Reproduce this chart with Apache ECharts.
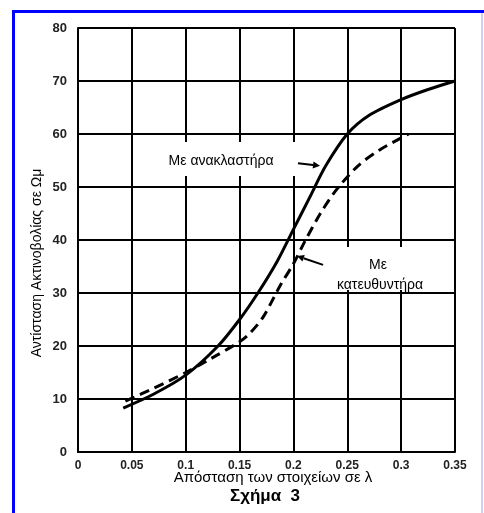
<!DOCTYPE html>
<html>
<head>
<meta charset="utf-8">
<script src="https://cdn.jsdelivr.net/npm/echarts@6/dist/echarts.min.js"></script>
<style>
html,body{margin:0;padding:0;background:#fff;}
#c{width:484px;height:513px;}
</style>
</head>
<body>
<div id="c"></div>
<script>
// Data
const xTicks = [0, 0.05, 0.1, 0.15, 0.2, 0.25, 0.3, 0.35];
const yTicks = [0, 10, 20, 30, 40, 50, 60, 70, 80];

const reflectorX = [0.042, 0.07, 0.1, 0.13, 0.15, 0.167, 0.185, 0.2, 0.215, 0.23, 0.25, 0.27, 0.3, 0.325, 0.35];
const reflectorY = [8.3, 10.9, 14.5, 20, 25, 30, 36, 42, 48, 54, 60, 63.5, 66.5, 68.4, 70];

const directorX = [0.044, 0.07, 0.1, 0.125, 0.15, 0.16, 0.172, 0.188, 0.2, 0.21, 0.225, 0.24, 0.26, 0.28, 0.307];
const directorY = [9.6, 12, 15, 17.8, 20.8, 22.5, 25.5, 31.5, 35.5, 39.5, 45, 49.5, 54, 57, 60];

const labelReflector = 'Με ανακλαστήρα';
const labelDirector1 = 'Με';
const labelDirector2 = 'κατευθυντήρα';
const xTitle = 'Απόσταση των στοιχείων σε λ';
const yTitle = 'Αντίσταση Ακτινοβολίας σε Ωμ';
const figTitle = 'Σχήμα  3';

// annotation anchors in data coordinates
const annoReflector = {text: [0.1328, 54.9], arrowFrom: [0.2042, 54.5], arrowTo: [0.2247, 54.0]};
const annoDirector = {text1: [0.2785, 35.3], text2: [0.2804, 31.5], arrowFrom: [0.2275, 35.3], arrowTo: [0.2033, 37.0]};

const pairs = (xs, ys) => xs.map((x, i) => [x, ys[i]]);

const chart = echarts.init(document.getElementById('c'), null, {renderer: 'canvas'});
const font = 'Liberation Sans, Arial, sans-serif';

const option = {
  animation: false,
  backgroundColor: '#ffffff',
  grid: {left: 78, right: 29, top: 28, bottom: 61},
  xAxis: {
    type: 'value', min: 0, max: 0.35, interval: 0.05,
    axisLine: {show: true, lineStyle: {color: '#000', width: 2}},
    axisTick: {show: false},
    splitLine: {show: true, lineStyle: {color: '#000', width: 2}},
    axisLabel: {
      color: '#222', fontSize: 12, fontWeight: 'bold', fontFamily: font, margin: 8,
      formatter: v => {
        const t = xTicks.find(t => Math.abs(t - v) < 1e-9);
        return t === undefined ? '' : String(t);
      }
    }
  },
  yAxis: {
    type: 'value', min: 0, max: 80, interval: 10,
    axisLine: {show: true, lineStyle: {color: '#000', width: 2}},
    axisTick: {show: false},
    splitLine: {show: true, lineStyle: {color: '#000', width: 2}},
    axisLabel: {
      color: '#222', fontSize: 13, fontWeight: 'bold', fontFamily: font, margin: 11,
      formatter: v => {
        const t = yTicks.find(t => Math.abs(t - v) < 1e-9);
        return t === undefined ? '' : String(t);
      }
    }
  },
  series: [
    {
      name: labelReflector, type: 'line', data: pairs(reflectorX, reflectorY),
      smooth: 0.3, showSymbol: false, z: 5,
      lineStyle: {color: '#000', width: 3}
    },
    {
      name: labelDirector2, type: 'line', data: pairs(directorX, directorY),
      smooth: 0.3, showSymbol: false, z: 5,
      lineStyle: {color: '#000', width: 3, type: [10, 6]}
    }
  ]
};
chart.setOption(option);

const P = d => chart.convertToPixel({xAxisIndex: 0, yAxisIndex: 0}, d);

function arrow(from, to) {
  const a = P(from), b = P(to);
  const ang = Math.atan2(b[1] - a[1], b[0] - a[0]);
  const L = 7, W = 3.5;
  const bx = b[0] - L * Math.cos(ang), by = b[1] - L * Math.sin(ang);
  return [
    {type: 'line', z: 20, shape: {x1: a[0], y1: a[1], x2: bx, y2: by}, style: {stroke: '#000', lineWidth: 2}},
    {type: 'polygon', z: 20, shape: {points: [
      [b[0], b[1]],
      [bx + W * Math.sin(ang), by - W * Math.cos(ang)],
      [bx - W * Math.sin(ang), by + W * Math.cos(ang)]
    ]}, style: {fill: '#000'}}
  ];
}

const tR = P(annoReflector.text);
const tD1 = P(annoDirector.text1);
const tD2 = P(annoDirector.text2);

const graphics = [
  // frame
  {type: 'rect', z: 30, shape: {x: 12, y: 10, width: 3, height: 503}, style: {fill: '#0000ff'}},
  {type: 'rect', z: 30, shape: {x: 12, y: 10, width: 472, height: 3}, style: {fill: '#0000ff'}},
  {type: 'rect', z: 30, shape: {x: 481, y: 13, width: 2, height: 500}, style: {fill: '#cfcff2'}},
  // annotation boxes
  {type: 'rect', z: 10, shape: {x: tR[0] - 76, y: tR[1] - 19, width: 152, height: 34}, style: {fill: '#fff'}},
  {type: 'text', z: 21, style: {text: labelReflector, x: tR[0], y: tR[1], align: 'center', verticalAlign: 'middle', font: '14px ' + font, fill: '#000'}},
  {type: 'rect', z: 10, shape: {x: tD1[0] - 66, y: tD1[1] - 18, width: 134, height: 43}, style: {fill: '#fff'}},
  {type: 'text', z: 21, style: {text: labelDirector1, x: tD1[0], y: tD1[1], align: 'center', verticalAlign: 'middle', font: '14px ' + font, fill: '#000'}},
  {type: 'text', z: 21, style: {text: labelDirector2, x: tD2[0], y: tD2[1], align: 'center', verticalAlign: 'middle', font: '14px ' + font, fill: '#000'}},
  ...arrow(annoReflector.arrowFrom, annoReflector.arrowTo),
  ...arrow(annoDirector.arrowFrom, annoDirector.arrowTo),
  // titles
  {type: 'text', z: 21, style: {text: xTitle, x: 273, y: 478, align: 'center', verticalAlign: 'middle', font: '15px ' + font, fill: '#000'}},
  {type: 'text', z: 21, style: {text: figTitle, x: 265, y: 496, align: 'center', verticalAlign: 'middle', font: 'bold 17px ' + font, fill: '#000'}},
  {type: 'text', z: 21, rotation: Math.PI / 2, x: 37, y: 263, style: {text: yTitle, x: 0, y: 0, align: 'center', verticalAlign: 'middle', font: '14px ' + font, fill: '#000'}}
];
chart.setOption({graphic: graphics});
</script>
</body>
</html>
